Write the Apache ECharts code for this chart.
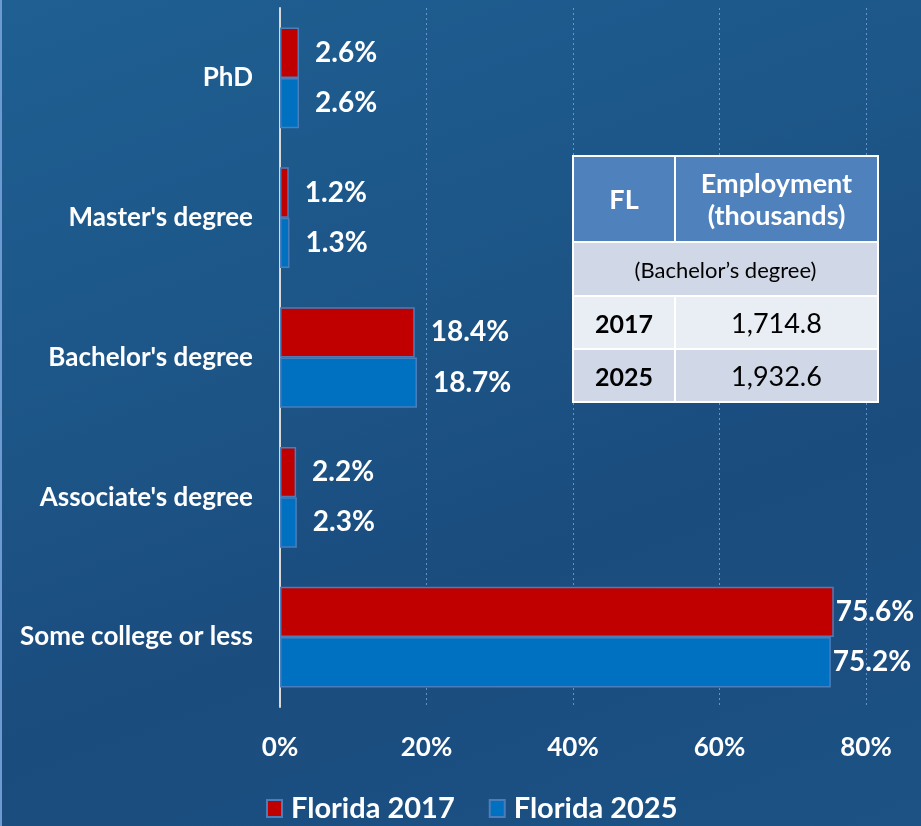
<!DOCTYPE html>
<html lang="en">
<head>
<meta charset="UTF-8">
<title>Florida employment by education</title>
<script src="https://cdn.jsdelivr.net/npm/echarts@6/dist/echarts.min.js"></script>
<style>
  html, body { margin: 0; padding: 0; }
  body {
    width: 921px; height: 826px; overflow: hidden; position: relative;
    background: linear-gradient(160deg, #1f5f92 0%, #1d5688 35%, #1b4c7e 65%, #1c5284 100%);
  }
  #main { position: absolute; left: 0; top: 0; width: 921px; height: 826px; }
  #tbl {
    position: absolute; left: 572px; top: 155px; width: 307px;
    border-collapse: collapse; font-family: Lato, "Open Sans", sans-serif;
    border: 2px solid #fff;
  }
  #tbl td { border: 2px solid #fff; text-align: center; padding: 0; }
  #tbl .hd { background: #4f81bd; color: #fff; font-weight: bold; font-size: 27px; height: 84px; line-height: 32px; }
  #tbl .sub { background: #d0d8e8; color: #000; font-size: 22px; height: 52px; }
  #tbl .r1 td { background: #e9edf4; }
  #tbl .r2 td { background: #d0d8e8; }
  #tbl .yr { font-weight: bold; font-size: 25px; color: #000; height: 51px; width: 100px; }
  #tbl .val { font-size: 27px; color: #000; }
  #frame { position: absolute; left: 0; top: 0; width: 2px; height: 826px; background: #6d9ad0; }
</style>
</head>
<body>
<div id="frame"></div>
<div id="main"></div>
<table id="tbl">
  <tr><td class="hd">FL</td><td class="hd">Employment<br>(thousands)</td></tr>
  <tr><td class="sub" colspan="2">(Bachelor’s degree)</td></tr>
  <tr class="r1"><td class="yr">2017</td><td class="val">1,714.8</td></tr>
  <tr class="r2"><td class="yr">2025</td><td class="val">1,932.6</td></tr>
</table>
<script type="text/javascript">
  const categories = ['PhD', "Master's degree", "Bachelor's degree", "Associate's degree", 'Some college or less'];
  const florida2017 = [2.6, 1.2, 18.4, 2.2, 75.6];
  const florida2025 = [2.6, 1.3, 18.7, 2.3, 75.2];
  const seriesNames = ['Florida 2017', 'Florida 2025'];

  const font = 'Lato, "Open Sans", sans-serif';
  const chart = echarts.init(document.getElementById('main'));

  const labelStyle = {
    show: true,
    position: 'right',
    distance: 16,
    color: '#fff',
    fontWeight: 'bold',
    fontSize: 28,
    fontFamily: font,
    formatter: p => p.value.toFixed(1) + '%'
  };

  // the long bars push their labels close to the bar end so they stay on the page
  const toItems = arr => arr.map(v => v > 70 ? { value: v, label: { distance: 2 } } : v);

  chart.setOption({
    backgroundColor: 'transparent',
    animation: false,
    grid: { left: 280, right: 55, top: 8, bottom: 119 },
    legend: {
      bottom: -2,
      left: 261,
      itemGap: 34,
      itemWidth: 15,
      itemHeight: 17,
      icon: 'rect',
      textStyle: { color: '#fff', fontWeight: 'bold', fontSize: 29, fontFamily: font, padding: [0, 0, 0, 4] },
      data: seriesNames
    },
    xAxis: {
      type: 'value',
      min: 0,
      max: 80,
      interval: 20,
      axisLine: { show: false },
      axisTick: { show: false },
      splitLine: { show: true, lineStyle: { color: 'rgba(120,165,220,0.8)', type: [2, 3], width: 1 } },
      axisLabel: {
        color: '#fff', fontWeight: 'bold', fontSize: 26, fontFamily: font, margin: 28,
        formatter: v => v + '%'
      }
    },
    yAxis: {
      type: 'category',
      inverse: true,
      data: categories,
      axisLine: { show: true, lineStyle: { color: '#d9d9d9', width: 2 } },
      axisTick: { show: false },
      axisLabel: { color: '#fff', fontWeight: 'bold', fontSize: 26, fontFamily: font, margin: 27 }
    },
    series: [
      {
        name: seriesNames[0],
        type: 'bar',
        data: toItems(florida2017),
        barGap: '0%',
        barCategoryGap: '28%',
        itemStyle: { color: '#c00000', borderColor: '#4a7ebb', borderWidth: 1.5 },
        label: labelStyle
      },
      {
        name: seriesNames[1],
        type: 'bar',
        data: toItems(florida2025),
        itemStyle: { color: '#0070c0', borderColor: '#4a7ebb', borderWidth: 1.5 },
        label: labelStyle
      }
    ]
  });
</script>
</body>
</html>
